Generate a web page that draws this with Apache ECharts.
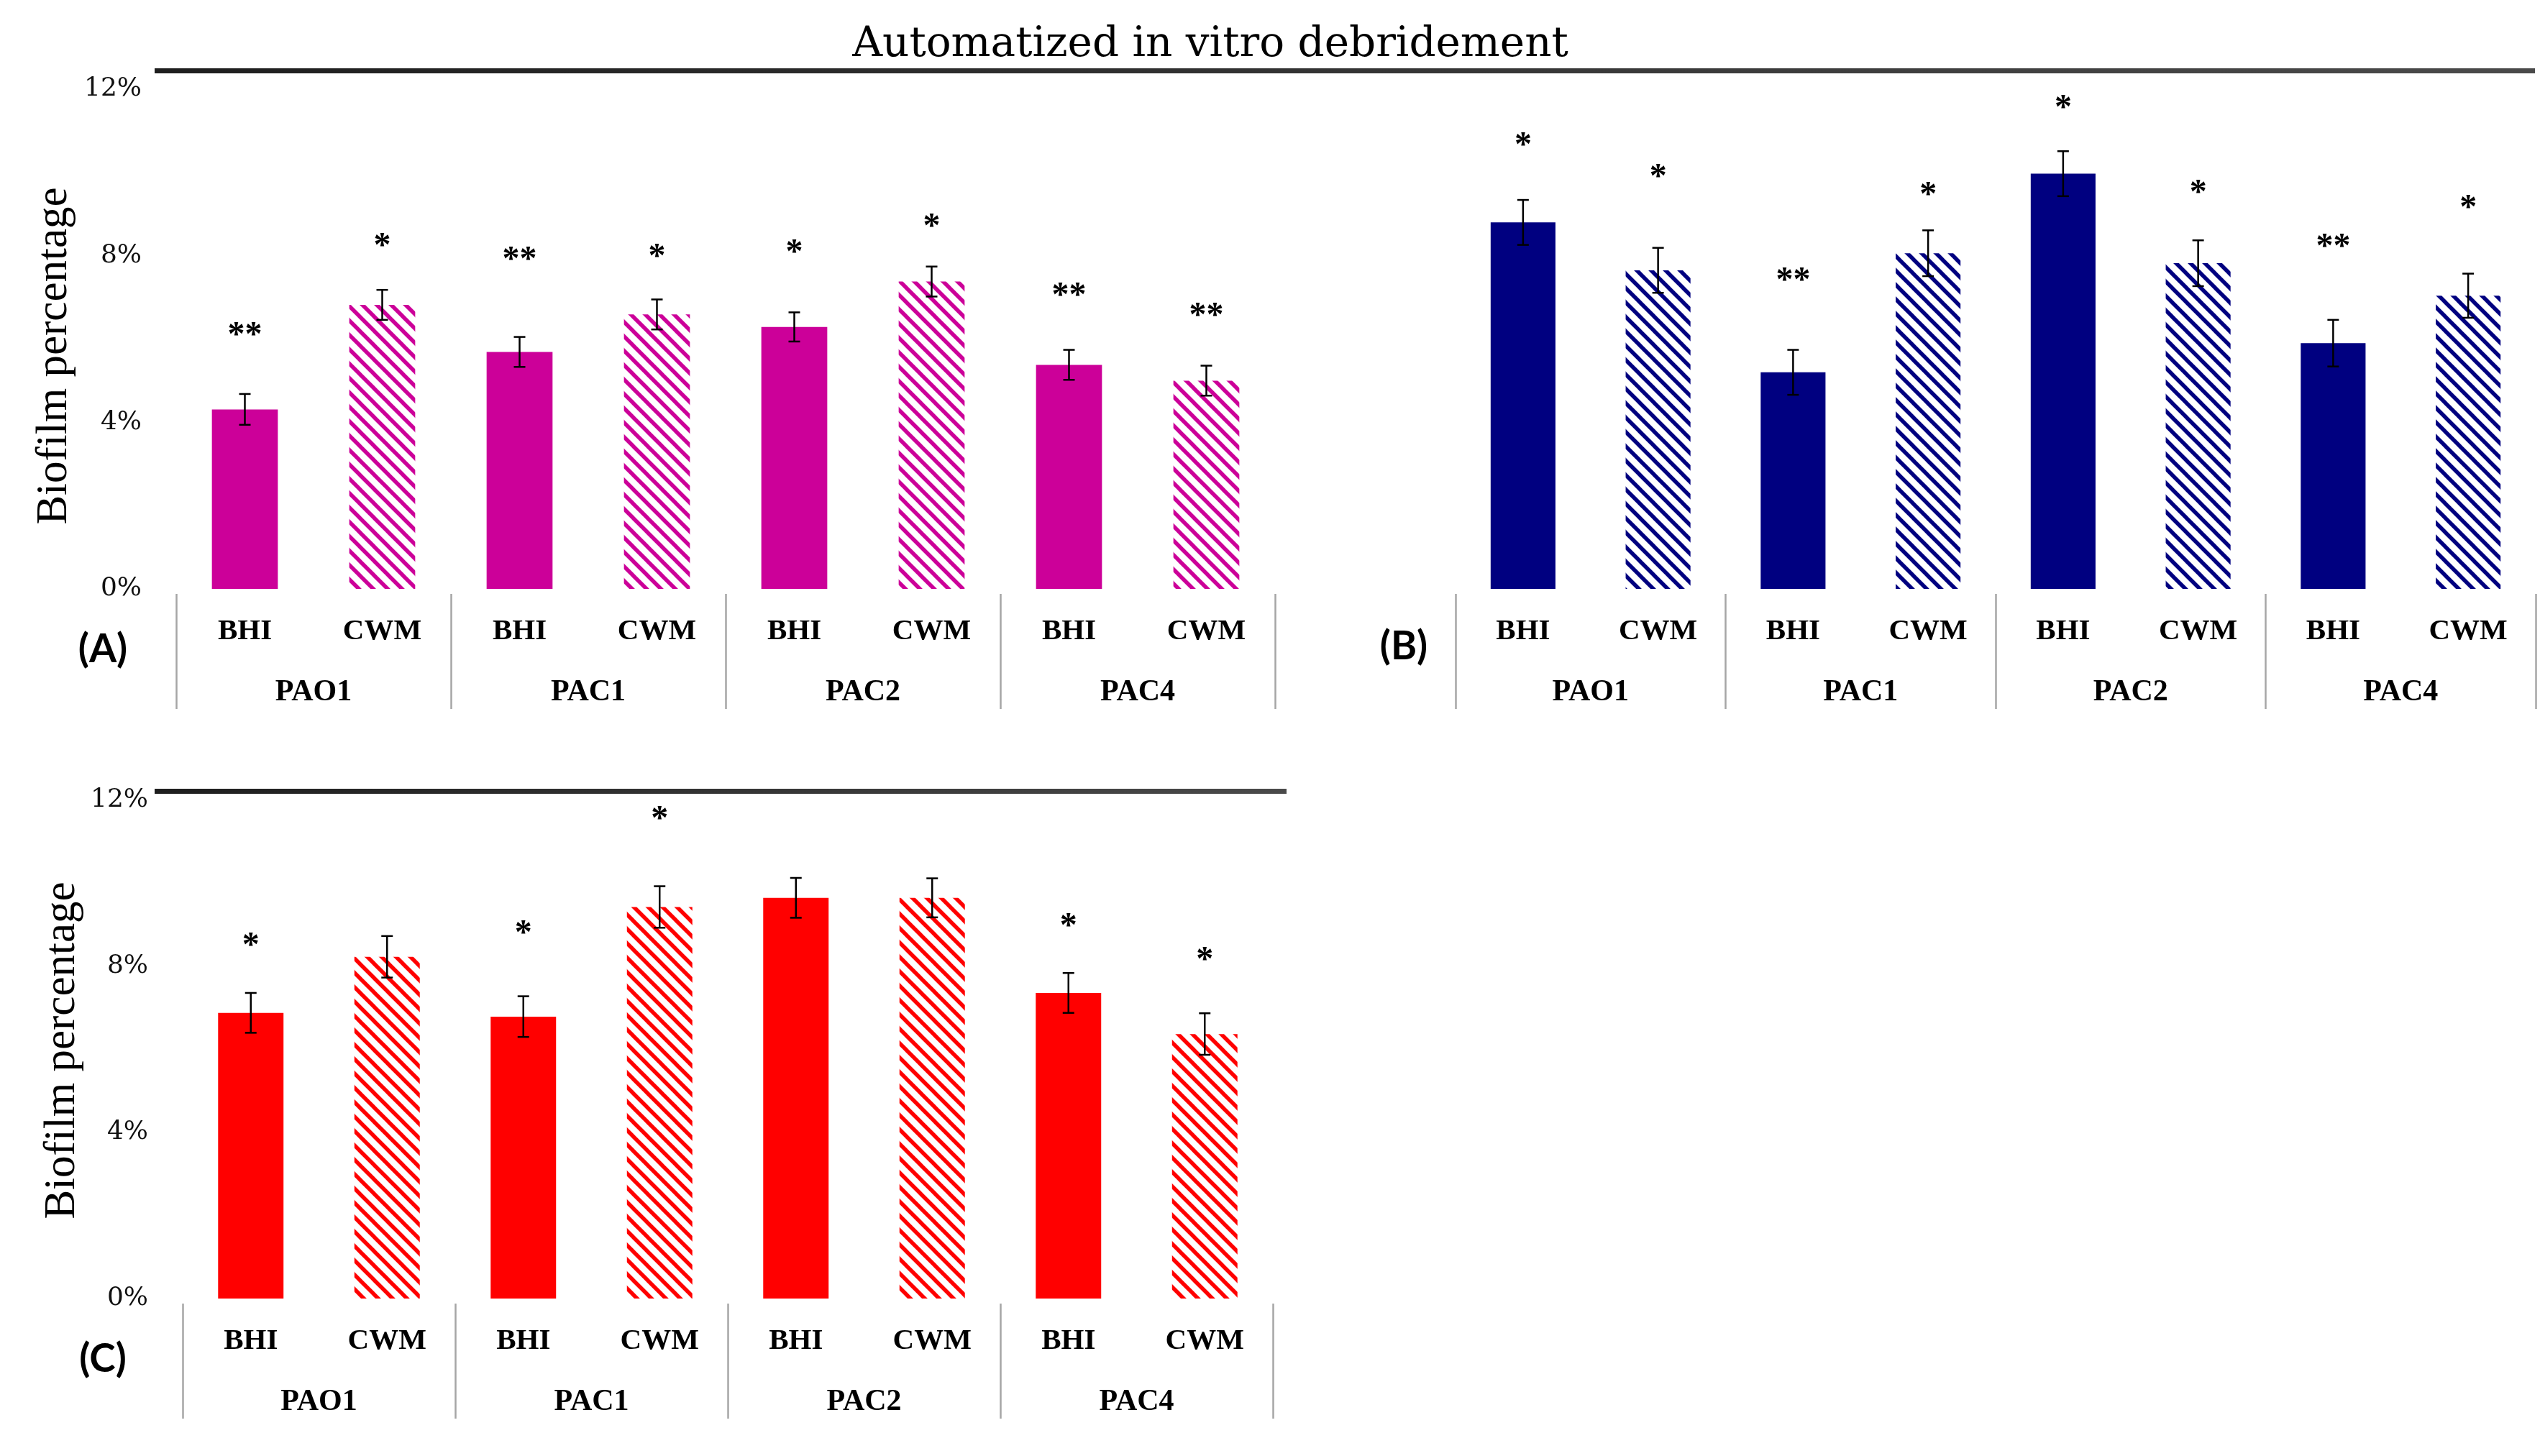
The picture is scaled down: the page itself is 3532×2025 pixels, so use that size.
<!DOCTYPE html>
<html>
<head>
<meta charset="utf-8">
<script src="https://cdn.jsdelivr.net/npm/echarts@6/dist/echarts.min.js"></script>
<style>
html,body{margin:0;padding:0;background:#ffffff;}
#chart{width:3532px;height:2025px;}
</style>
</head>
<body>
<div id="chart"></div>
<script>
// ---------- data ----------
const mediaLabels = ['BHI', 'CWM', 'BHI', 'CWM', 'BHI', 'CWM', 'BHI', 'CWM'];
const strains = ['PAO1', 'PAC1', 'PAC2', 'PAC4'];
const yTicks = [0, 4, 8, 12];

const valuesA = [4.31, 6.82, 5.69, 6.59, 6.29, 7.38, 5.38, 5.00];
const errorsA = [0.37, 0.36, 0.36, 0.36, 0.35, 0.36, 0.36, 0.36];
const starsA  = ['**', '*', '**', '*', '*', '*', '**', '**'];
const starYA  = [6.2, 8.35, 8.02, 8.08, 8.19, 8.81, 7.16, 6.67];

const valuesB = [8.80, 7.65, 5.20, 8.06, 9.97, 7.82, 5.90, 7.04];
const errorsB = [0.54, 0.54, 0.54, 0.55, 0.54, 0.55, 0.56, 0.53];
const starsB  = ['*', '*', '**', '*', '*', '*', '**', '*'];
const starYB  = [10.77, 10.0, 7.51, 9.58, 11.67, 9.62, 8.33, 9.26];

const valuesC = [6.88, 8.23, 6.79, 9.43, 9.65, 9.65, 7.36, 6.37];
const errorsC = [0.48, 0.50, 0.49, 0.50, 0.48, 0.47, 0.48, 0.50];
const starsC  = ['*', '', '*', '*', '', '', '*', '*'];
const starYC  = [8.62, null, 8.91, 11.66, null, null, 9.08, 8.27];

const titleText = 'Automatized in vitro debridement';
const yTitle = 'Biofilm percentage';
const panelLetters = ['(A)', '(B)', '(C)'];

// ---------- styling helpers ----------
function hatch(color) {
  const c = document.createElement('canvas');
  c.width = 20; c.height = 20;
  const g = c.getContext('2d');
  g.fillStyle = '#ffffff';
  g.fillRect(0, 0, 20, 20);
  g.strokeStyle = color;
  g.lineWidth = 5.5;
  g.beginPath();
  for (let k = -1; k <= 1; k++) {
    g.moveTo(k * 20 - 3, -3);
    g.lineTo(k * 20 + 23, 23);
  }
  g.stroke();
  return c;
}

const panels = [
  {values: valuesA, errors: errorsA, stars: starsA, starY: starYA, color: '#cc0099',
   grid: {left: 245, top: 124, width: 1528, height: 695}, showY: true},
  {values: valuesB, errors: errorsB, stars: starsB, starY: starYB, color: '#000080',
   grid: {left: 2024, top: 124, width: 1502, height: 695}, showY: false},
  {values: valuesC, errors: errorsC, stars: starsC, starY: starYC, color: '#ff0000',
   grid: {left: 254, top: 1113, width: 1516, height: 693}, showY: true}
];

const serifB = 'Liberation Serif';
const grids = [], xAxes = [], yAxes = [], series = [];

panels.forEach((p, gi) => {
  grids.push(Object.assign({containLabel: false}, p.grid));
  xAxes.push({
    type: 'category', gridIndex: gi, data: mediaLabels, position: 'bottom',
    axisLine: {show: false}, axisTick: {show: false}, splitLine: {show: false},
    axisLabel: {interval: 0, margin: 59, verticalAlign: 'middle', fontFamily: serifB,
      fontWeight: 'bold', fontSize: 41, color: '#000'}
  });
  xAxes.push({
    type: 'category', gridIndex: gi, data: strains, position: 'bottom', offset: 7,
    axisLine: {show: false},
    axisTick: {show: true, interval: 0, length: 160, lineStyle: {color: '#a6a6a6', width: 2.5}},
    splitLine: {show: false},
    axisLabel: {interval: 0, margin: 137, verticalAlign: 'middle', fontFamily: serifB,
      fontWeight: 'bold', fontSize: 42, color: '#000'}
  });
  yAxes.push({
    type: 'value', gridIndex: gi, min: yTicks[0], max: yTicks[yTicks.length - 1],
    interval: yTicks[1] - yTicks[0],
    axisLine: {show: false}, axisTick: {show: false}, splitLine: {show: false},
    axisLabel: {show: p.showY, formatter: '{value}%', margin: 48,
      fontFamily: 'DejaVu Serif', fontSize: 36, color: '#111'}
  });

  const pattern = {image: hatch(p.color), repeat: 'repeat'};
  series.push({
    type: 'bar', xAxisIndex: gi * 2, yAxisIndex: gi, barWidth: '48%',
    data: p.values.map((v, i) => ({value: v, itemStyle: {color: i % 2 ? pattern : p.color}})),
    silent: true, animation: false
  });

  series.push({
    type: 'custom', xAxisIndex: gi * 2, yAxisIndex: gi, z: 5, animation: false, silent: true,
    data: p.values.map((v, i) => [i, v, p.errors[i]]),
    encode: {x: 0, y: 1},
    renderItem: function (params, api) {
      const i = api.value(0), v = api.value(1), e = api.value(2);
      const hi = api.coord([i, v + e]);
      const lo = api.coord([i, v - e]);
      const hw = 8;
      const st = {stroke: '#000', lineWidth: 2.5};
      return {type: 'group', children: [
        {type: 'line', shape: {x1: hi[0], y1: hi[1], x2: lo[0], y2: lo[1]}, style: st},
        {type: 'line', shape: {x1: hi[0] - hw, y1: hi[1], x2: hi[0] + hw, y2: hi[1]}, style: st},
        {type: 'line', shape: {x1: lo[0] - hw, y1: lo[1], x2: lo[0] + hw, y2: lo[1]}, style: st}
      ]};
    }
  });

  const starIdx = [];
  p.stars.forEach((s, i) => { if (s) starIdx.push(i); });
  series.push({
    type: 'custom', xAxisIndex: gi * 2, yAxisIndex: gi, z: 6, animation: false, silent: true,
    data: starIdx.map(i => [i, p.starY[i]]),
    encode: {x: 0, y: 1},
    renderItem: function (params, api) {
      const pt = api.coord([api.value(0), api.value(1)]);
      const txt = p.stars[starIdx[params.dataIndex]];
      return {type: 'text', x: pt[0], y: pt[1] + 8,
        style: {text: txt, fill: '#000', font: 'bold 48px "Liberation Serif"',
          align: 'center', verticalAlign: 'middle', textAlign: 'center', textVerticalAlign: 'middle'}};
    }
  });
});

const lineFill = () => new echarts.graphic.LinearGradient(0, 0, 1, 0, [
  {offset: 0, color: '#1e1e1e'}, {offset: 1, color: '#4a4a4a'}]);
const centered = {align: 'center', verticalAlign: 'middle', textAlign: 'center', textVerticalAlign: 'middle'};

const graphic = [
  {type: 'text', x: 1683, y: 63,
    style: Object.assign({text: titleText, font: '58px "DejaVu Serif"', fill: '#000'}, centered)},
  {type: 'rect', shape: {x: 215, y: 95, width: 3310, height: 7}, style: {fill: lineFill()}},
  {type: 'rect', shape: {x: 215, y: 1097, width: 1574, height: 7}, style: {fill: lineFill()}},
  {type: 'text', x: 76, y: 495, rotation: Math.PI / 2,
    style: Object.assign({text: yTitle, font: '61px "Liberation Serif"', fill: '#000'}, centered)},
  {type: 'text', x: 87, y: 1461, rotation: Math.PI / 2,
    style: Object.assign({text: yTitle, font: '61px "Liberation Serif"', fill: '#000'}, centered)},
  {type: 'text', x: 143, y: 903,
    style: Object.assign({text: panelLetters[0], font: 'bold 55px Lato', fill: '#000'}, centered)},
  {type: 'text', x: 1952, y: 899,
    style: Object.assign({text: panelLetters[1], font: 'bold 55px Lato', fill: '#000'}, centered)},
  {type: 'text', x: 143, y: 1890,
    style: Object.assign({text: panelLetters[2], font: 'bold 55px Lato', fill: '#000'}, centered)}
];

const chart = echarts.init(document.getElementById('chart'), null, {renderer: 'canvas'});
chart.setOption({
  backgroundColor: '#ffffff',
  animation: false,
  grid: grids,
  xAxis: xAxes,
  yAxis: yAxes,
  series: series,
  graphic: graphic
});
</script>
</body>
</html>
